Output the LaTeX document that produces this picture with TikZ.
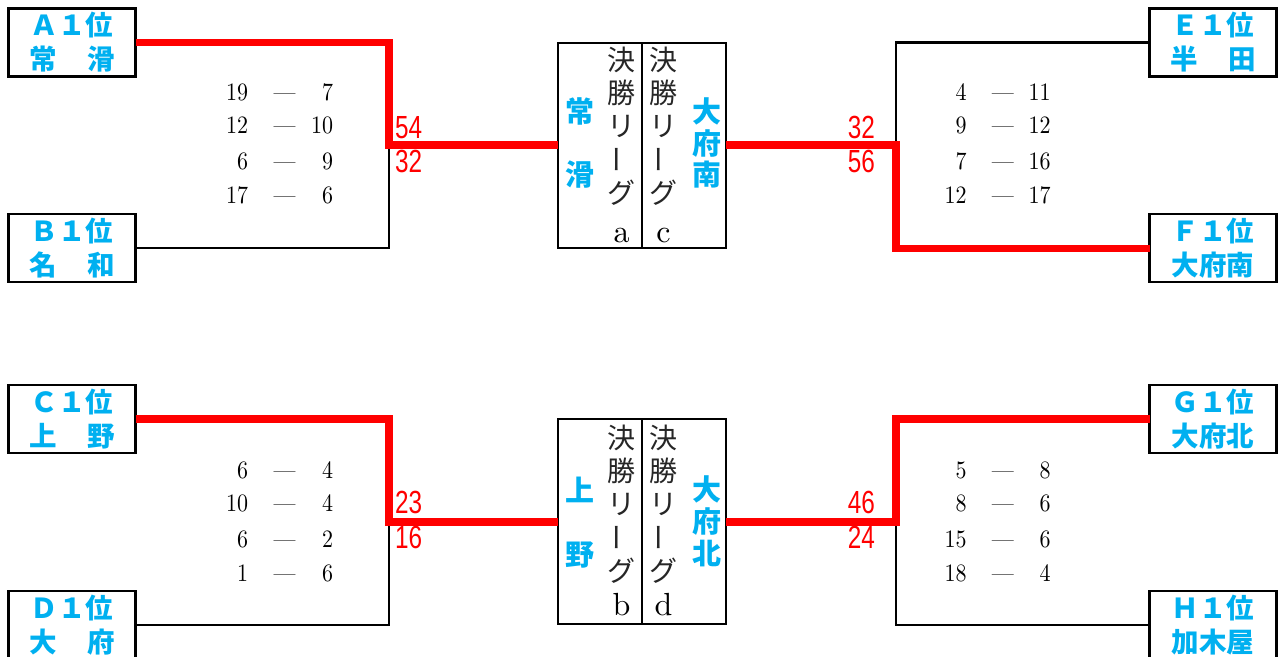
\documentclass[tikz,border=0pt]{standalone}
\usepackage{fontspec}
\newfontfamily\jp{Noto Sans CJK JP}
\newfontfamily\scorefont{Liberation Sans}
\newfontfamily\lmten{lmroman10-regular.otf}
\definecolor{teamblue}{RGB}{0,176,240}
\definecolor{winred}{RGB}{255,0,0}
\tikzset{
  teambox/.style={draw, line width=2.3pt, minimum width=127pt, minimum height=68pt,
    inner sep=0pt, outer sep=0pt, align=center, text=teamblue,
    font=\jp\bfseries\fontsize{27.5}{34}\selectfont},
  leaguebox/.style={draw, line width=2.2pt, minimum width=168pt, minimum height=205pt,
    inner sep=0pt, outer sep=0pt},
  divider/.style={line width=2.2pt},
  winline/.style={draw=winred, line width=7.5pt, line join=miter},
  loseline/.style={draw=black, line width=2.3pt},
  score/.style={text=winred, font=\scorefont\fontsize{32}{32}\selectfont, xscale=0.76, inner sep=0pt},
  res/.style={font=\lmten\fontsize{25}{25}\selectfont, xscale=0.88, inner sep=0pt},
  vchar/.style={font=\jp\fontsize{28}{28}\selectfont, inner sep=0pt, text=black!85},
  letter/.style={font=\lmten\fontsize{32}{32}\selectfont, inner sep=0pt},
  vname/.style={text=teamblue, font=\jp\bfseries\fontsize{29}{29}\selectfont, inner sep=0pt},
}
\newcommand\lgcol[5]{%
  \node[vchar] (#1-1) at (#2,#3) {決};
  \node[vchar] (#1-2) at (#2,#3+33) {勝};
  \node[vchar] (#1-3) at (#2,#3+66.5) {リ};
  \node[vchar,rotate=90] (#1-4) at (#2,#3+99.5) {ー};
  \node[vchar] (#1-5) at (#2,#3+133) {グ};
  \node[letter,anchor=base] (#1-6) at (#2,#5) {#4};
}
\newcommand\resL[4]{%
  \node[res,anchor=base east] (#1a) at (248.3,#2) {#3};
  \node[res,anchor=base] (#1d) at (284.5,#2) {—};
  \node[res,anchor=base east] (#1b) at (333.3,#2) {#4};
}
\newcommand\resR[4]{%
  \node[res,anchor=base east] (#1a) at (966.7,#2) {#3};
  \node[res,anchor=base] (#1d) at (1002.8,#2) {—};
  \node[res,anchor=base east] (#1b) at (1050.7,#2) {#4};
}
\begin{document}
\begin{tikzpicture}[x=1pt,y=-1pt]
\fill[white] (0,0) rectangle (1279,656);
\useasboundingbox (0,0) rectangle (1279,656);

% team boxes
\node[teambox] (A) at (72,42.5) {Ａ１位\\常\hspace{31pt}滑};
\node[teambox] (B) at (72,248.3) {Ｂ１位\\名\hspace{31pt}和};
\node[teambox] (C) at (72,419) {Ｃ１位\\上\hspace{31pt}野};
\node[teambox] (D) at (72,625) {Ｄ１位\\大\hspace{31pt}府};
\node[teambox] (E) at (1213,42.5) {Ｅ１位\\半\hspace{31pt}田};
\node[teambox] (F) at (1213,248.3) {Ｆ１位\\大府南};
\node[teambox] (G) at (1213,419) {Ｇ１位\\大府北};
\node[teambox] (H) at (1213,625) {Ｈ１位\\加木屋};

% league boxes
\node[leaguebox] (LA) at (642.2,145.2) {};
\node[leaguebox] (LB) at (642.2,521.8) {};
\draw[divider] (LA.north) -- (LA.south);
\draw[divider] (LB.north) -- (LB.south);

\lgcol{la}{621.5}{60}{a}{242}
\lgcol{lc}{663.5}{60}{c}{242}
\lgcol{lb}{621.5}{437.5}{b}{615}
\lgcol{ld}{663.5}{437.5}{d}{615}

\node[vname] (n1) at (579.5,111.5) {常};
\node[vname] (n2) at (579.5,175) {滑};
\node[vname] (n3) at (706.5,111.5) {大};
\node[vname] (n4) at (706.5,143.5) {府};
\node[vname] (n5) at (706.5,175) {南};
\node[vname] (n6) at (579.5,490) {上};
\node[vname] (n7) at (579.5,555) {野};
\node[vname] (n8) at (706.5,489.5) {大};
\node[vname] (n9) at (706.5,522) {府};
\node[vname] (n10) at (706.5,553.5) {北};

% junctions
\coordinate (jAB) at (389,145.2);
\coordinate (jEF) at (896.2,145.2);
\coordinate (jCD) at (389,521.8);
\coordinate (jGH) at (896.2,521.8);

% connectors
\draw[loseline] (B.east) -| (jAB);
\draw[winline] (A.east) -| (jAB) -- (LA.west);
\draw[loseline] (E.west) -| (jEF);
\draw[winline] (F.west) -| (jEF) -- (LA.east);
\draw[loseline] (D.east) -| (jCD);
\draw[winline] (C.east) -| (jCD) -- (LB.west);
\draw[loseline] (H.west) -| (jGH);
\draw[winline] (G.west) -| (jGH) -- (LB.east);

% total scores
\node[score,anchor=base west] (s1) at (395,138) {54};
\node[score,anchor=base west] (s2) at (395,172) {32};
\node[score,anchor=base east] (s3) at (875,138) {32};
\node[score,anchor=base east] (s4) at (875,172) {56};
\node[score,anchor=base west] (s5) at (395,513) {23};
\node[score,anchor=base west] (s6) at (395,548) {16};
\node[score,anchor=base east] (s7) at (875,513) {46};
\node[score,anchor=base east] (s8) at (875,548) {24};

% set results
\resL{p1}{100}{19}{7}
\resL{p2}{133.5}{12}{10}
\resL{p3}{169}{6}{9}
\resL{p4}{203}{17}{6}
\resR{q1}{100}{4}{11}
\resR{q2}{133.5}{9}{12}
\resR{q3}{169}{7}{16}
\resR{q4}{203}{12}{17}
\resL{r1}{478.3}{6}{4}
\resL{r2}{511.5}{10}{4}
\resL{r3}{547}{6}{2}
\resL{r4}{581}{1}{6}
\resR{t1}{478.3}{5}{8}
\resR{t2}{511.5}{8}{6}
\resR{t3}{547}{15}{6}
\resR{t4}{581}{18}{4}
\end{tikzpicture}
\end{document}
